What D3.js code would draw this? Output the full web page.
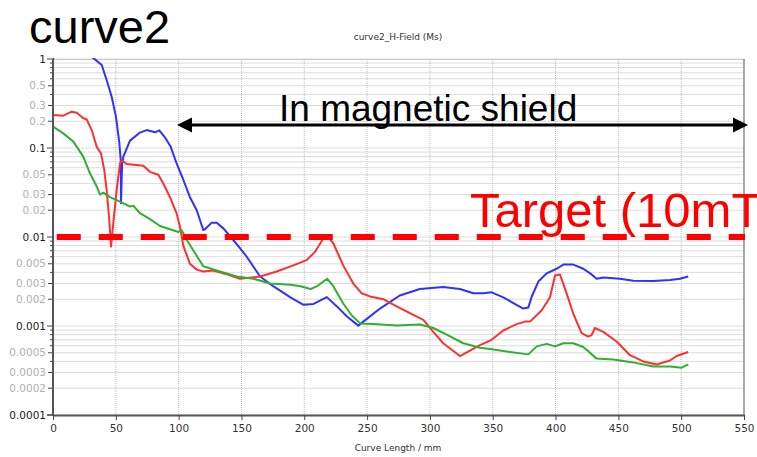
<!DOCTYPE html>
<html><head><meta charset="utf-8">
<script src="https://cdn.jsdelivr.net/npm/d3@7"></script>
<style>body{margin:0;background:#fff}svg{display:block}</style>
</head><body>
<svg id="c" width="757" height="457"></svg>
<script>
const blueX=[0,3,15,28,30.8,38.8,42.7,46.7,50.1,52.8,53.9,54.1,55,56,61.3,69.2,74.6,81.2,84.6,89.1,93.7,98.4,103.7,109,114.4,119.6,121,126.3,130.3,135.6,141.5,148.8,154.2,164.8,175.3,189,199.4,207.4,218,226,234,243,247,260.3,276,292,310.6,323.9,334.5,342.5,349.1,358.4,366.4,374.3,378.3,381,386.3,392.9,400.9,406.2,414.1,422.1,428.7,432.7,438,451.3,461.9,477.8,491.1,499,505.6];
const blueY=[1.0,1.4,2.0,1.4,1.06,0.856,0.58,0.377,0.225,0.114,0.073,0.024,0.065,0.08,0.121,0.149,0.159,0.15,0.158,0.132,0.103,0.067,0.044,0.028,0.020,0.0120,0.0122,0.0145,0.0145,0.0125,0.0100,0.0075,0.0060,0.0036,0.0028,0.0021,0.00173,0.00177,0.00211,0.00166,0.00128,0.00101,0.00112,0.00157,0.0022,0.0026,0.00275,0.0026,0.00233,0.00233,0.00239,0.0021,0.00181,0.00157,0.00161,0.00213,0.00316,0.0039,0.0044,0.0049,0.0049,0.0044,0.0038,0.0034,0.0035,0.0034,0.00323,0.0032,0.00329,0.0034,0.0036];
const redX=[0,8.2,14.9,18.9,24.1,26.8,30.8,34.8,38.2,40.8,42.7,44.6,46.2,48.5,50.7,53.3,54.9,58.6,71.9,77.2,83.8,87.8,93.1,98.4,101,103.7,109,114.4,119.6,127.6,138.3,148.8,164.8,178,191.3,201.9,208.5,215.1,219.1,223.1,231,239,245.7,252.3,262.9,273.5,286.8,294.8,302.7,310.6,323.9,331.9,339.9,349.1,358.4,369,375.7,379.7,389,395.6,399.6,403.5,408.8,414.1,420.7,426,428.7,431.3,438,448.6,459.2,469.8,480.5,491.1,496.4,505.6];
const redY=[0.235,0.231,0.256,0.249,0.216,0.21,0.159,0.103,0.087,0.0567,0.0338,0.0169,0.0078,0.0169,0.0338,0.067,0.073,0.066,0.063,0.054,0.05,0.040,0.028,0.0184,0.0132,0.0080,0.0050,0.0043,0.0041,0.0042,0.0038,0.0034,0.0036,0.0041,0.0048,0.0055,0.0068,0.0096,0.0101,0.0085,0.0048,0.0030,0.00233,0.00215,0.0020,0.00166,0.00133,0.00117,0.00086,0.00064,0.00046,0.00053,0.00061,0.00070,0.00089,0.00105,0.00112,0.00112,0.0015,0.0021,0.0037,0.0038,0.00233,0.00138,0.00083,0.00076,0.00079,0.00095,0.00086,0.00067,0.00047,0.00040,0.00037,0.00041,0.00046,0.00051];
const greenX=[0,8.2,16.2,24.1,29.4,34.8,37.4,40,45.4,53.3,61.3,63.9,69.2,77.2,85.2,93.1,99.7,102.4,106.4,113,119.6,130.3,146.2,159.4,172.7,189,197,205,210.2,218.2,223.1,231,237.7,244.4,254.9,273.5,292.1,302.7,313.4,326.6,339.9,347.8,363.7,378.3,385,392.9,399.6,406.2,414.1,422.1,432.7,446,461.9,477.8,491.1,500.4,505.6];
const greenY=[0.174,0.146,0.118,0.080,0.052,0.037,0.030,0.0315,0.028,0.025,0.022,0.0225,0.0185,0.0159,0.0133,0.0122,0.0114,0.0119,0.0093,0.0066,0.0047,0.0042,0.0036,0.0034,0.0030,0.0029,0.0028,0.0026,0.0028,0.0034,0.0028,0.00179,0.00132,0.00107,0.00105,0.00101,0.00104,0.00095,0.00080,0.00064,0.00057,0.00055,0.00051,0.00048,0.00059,0.00063,0.00059,0.00064,0.00064,0.00058,0.00043,0.00042,0.00039,0.00035,0.00035,0.00034,0.00037];
const xTicks=[0,50,100,150,200,250,300,350,400,450,500,550];
const yLabelVals=[1,0.5,0.3,0.2,0.1,0.05,0.03,0.02,0.01,0.005,0.003,0.002,0.001,0.0005,0.0003,0.0002,0.0001];
const yLabelText=["1","0.5","0.3","0.2","0.1","0.05","0.03","0.02","0.01","0.005","0.003","0.002","0.001","0.0005","0.0003","0.0002","0.0001"];
const targetValue=0.01;

const svg=d3.select("#c");
const L=53,R=744,T=59,B=415;
const x=d3.scaleLinear().domain([0,550]).range([L,R]);
const y=d3.scaleLog().domain([1e-4,1]).range([B,T]);

const minor=[];
for(let k=-4;k<0;k++){for(let m=1;m<10;m++){minor.push(m*Math.pow(10,k));}}
minor.push(1);

svg.append("g").selectAll("line").data(minor).join("line")
 .attr("x1",L).attr("x2",R).attr("y1",d=>y(d)).attr("y2",d=>y(d))
 .attr("stroke","#dcdcdc").attr("stroke-width",1);
svg.append("g").selectAll("line").data(xTicks.slice(1,-1)).join("line")
 .attr("x1",d=>x(d)).attr("x2",d=>x(d)).attr("y1",T).attr("y2",B)
 .attr("stroke","#bdbdbd").attr("stroke-width",1).attr("stroke-dasharray","1,1");
svg.append("line").attr("x1",L).attr("x2",R).attr("y1",T+0.5).attr("y2",T+0.5).attr("stroke","#c8c8c8");
svg.append("line").attr("x1",R).attr("x2",R).attr("y1",T).attr("y2",B).attr("stroke","#888").attr("stroke-width",1.5);

svg.append("defs").append("clipPath").attr("id","clip").append("rect")
 .attr("x",L).attr("y",T-1).attr("width",R-L).attr("height",B-T+1);

const line=d3.line().x(d=>x(d[0])).y(d=>y(d[1]));
const series=[[blueX,blueY,"#3030ff"],[redX,redY,"#ff3030"],[greenX,greenY,"#30b030"]];
const gl=svg.append("g").attr("clip-path","url(#clip)");
series.forEach(([xs,ys,c])=>{
  gl.append("path").datum(xs.map((v,i)=>[v,ys[i]])).attr("d",line)
   .attr("fill","none").attr("stroke",c).attr("stroke-width",2).attr("stroke-linejoin","round");
});

svg.append("line").attr("x1",x(3)).attr("x2",R+1).attr("y1",y(targetValue)).attr("y2",y(targetValue))
 .attr("stroke","#ff0000").attr("stroke-width",6).attr("stroke-dasharray","24,18");

const yAxisG=svg.append("g");
yAxisG.selectAll("line.mt").data(minor).join("line")
 .attr("x1",d=>{const l=Math.log10(d);const isDec=Math.abs(l-Math.round(l))<1e-9;const isLab=yLabelVals.some(v=>Math.abs(v-d)<d*1e-6);return L-(isDec?6:isLab?5:3);})
 .attr("x2",L).attr("y1",d=>y(d)).attr("y2",d=>y(d)).attr("stroke","#444").attr("stroke-width",1);
svg.append("line").attr("x1",L).attr("x2",L).attr("y1",T).attr("y2",B+1).attr("stroke","#555").attr("stroke-width",2);
yAxisG.selectAll("text").data(yLabelVals).join("text")
 .attr("x",L-7).attr("y",d=>y(d)).attr("dy","0.35em").attr("text-anchor","end")
 .attr("font-family","'DejaVu Sans', sans-serif").attr("font-size",10.5)
 .attr("fill",(d,i)=>{const l=Math.log10(d);return Math.abs(l-Math.round(l))<1e-9?"#222":"#b0b0b0";})
 .text((d,i)=>yLabelText[i]);

const xAxisG=svg.append("g").attr("transform",`translate(0,${B})`)
 .call(d3.axisBottom(x).tickValues(xTicks).tickSize(5).tickSizeOuter(0).tickFormat(d3.format("d")));
xAxisG.select(".domain").attr("stroke","#555").attr("stroke-width",2);
xAxisG.selectAll(".tick line").attr("stroke","#444");
xAxisG.selectAll(".tick text").attr("font-family","'DejaVu Sans', sans-serif").attr("font-size",10.5).attr("fill","#333").attr("dy","0.9em");
svg.append("line").attr("x1",L-6).attr("x2",L).attr("y1",B).attr("y2",B).attr("stroke","#555").attr("stroke-width",1.5);

svg.append("text").attr("x",398).attr("y",40).attr("text-anchor","middle")
 .attr("font-family","'DejaVu Sans', sans-serif").attr("font-size",9).attr("fill","#333").text("curve2_H-Field (Ms)");
svg.append("text").attr("x",398).attr("y",451).attr("text-anchor","middle")
 .attr("font-family","'DejaVu Sans', sans-serif").attr("font-size",9).attr("fill","#333").text("Curve Length / mm");
svg.append("text").attr("x",29).attr("y",43)
 .attr("font-family","'Liberation Sans', Arial, sans-serif").attr("font-size",47).attr("fill","#000").text("curve2");
svg.append("text").attr("x",279).attr("y",121)
 .attr("font-family","'Liberation Sans', Arial, sans-serif").attr("font-size",37).attr("fill","#000").text("In magnetic shield");
svg.append("text").attr("x",470).attr("y",227)
 .attr("font-family","'Liberation Sans', Arial, sans-serif").attr("font-size",49).attr("fill","#ff0000").text("Target (10mT");

const ay=125,ax1=177,ax2=748,hl=15,hh=7.5;
svg.append("line").attr("x1",ax1+hl-2).attr("x2",ax2-hl+2).attr("y1",ay).attr("y2",ay).attr("stroke","#000").attr("stroke-width",3);
svg.append("path").attr("d",`M${ax1},${ay}L${ax1+hl},${ay-hh}L${ax1+hl},${ay+hh}Z`).attr("fill","#000");
svg.append("path").attr("d",`M${ax2},${ay}L${ax2-hl},${ay-hh}L${ax2-hl},${ay+hh}Z`).attr("fill","#000");
</script>
</body></html>
